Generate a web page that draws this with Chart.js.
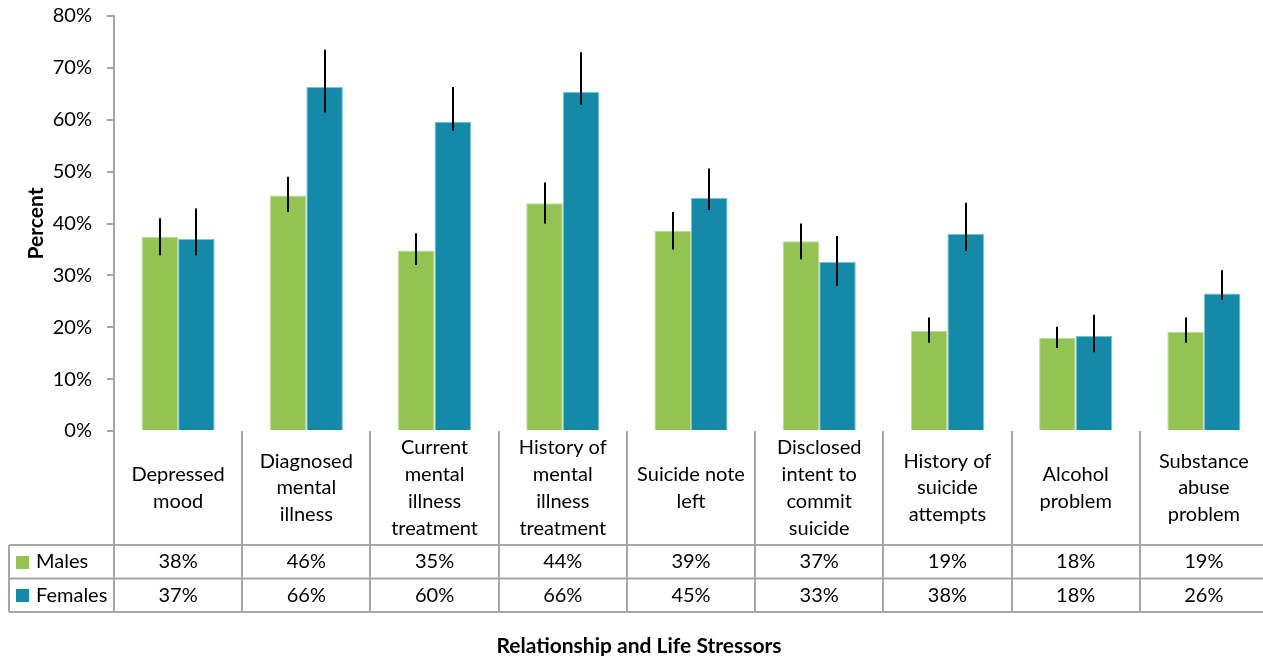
<!DOCTYPE html>
<html>
<head>
<meta charset="utf-8">
<script src="https://cdn.jsdelivr.net/npm/chart.js@4/dist/chart.umd.min.js"></script>
<style>
  html, body { margin: 0; padding: 0; background: #fff; overflow: hidden; }
  #wrap { width: 1275px; height: 656px; }
</style>
</head>
<body>
<div id="wrap"><canvas id="stressChart" width="1270" height="656"></canvas></div>
<script>
const categories = [
  ["Depressed", "mood"],
  ["Diagnosed", "mental", "illness"],
  ["Current", "mental", "illness", "treatment"],
  ["History of", "mental", "illness", "treatment"],
  ["Suicide note", "left"],
  ["Disclosed", "intent to", "commit", "suicide"],
  ["History of", "suicide", "attempts"],
  ["Alcohol", "problem"],
  ["Substance", "abuse", "problem"]
];
const males = [37.4, 45.4, 34.8, 43.9, 38.6, 36.6, 19.3, 18.0, 19.1];
const malesLow = [33.9, 42.2, 32.0, 40.0, 35.0, 33.1, 17.0, 16.0, 17.0];
const malesHigh = [41.0, 49.0, 38.1, 47.9, 42.2, 40.0, 21.9, 20.1, 21.9];
const females = [37.0, 66.3, 59.6, 65.4, 44.9, 32.6, 38.0, 18.3, 26.5];
const femalesLow = [33.9, 61.4, 57.9, 62.9, 42.6, 28.0, 34.7, 15.2, 25.3];
const femalesHigh = [42.9, 73.5, 66.3, 73.0, 50.6, 37.6, 44.0, 22.4, 31.0];
const malesTable = ["38%", "46%", "35%", "44%", "39%", "37%", "19%", "18%", "19%"];
const femalesTable = ["37%", "66%", "60%", "66%", "45%", "33%", "38%", "18%", "26%"];
const yTicks = [0, 10, 20, 30, 40, 50, 60, 70, 80];

const GREEN = "#92C353";
const TEAL = "#148AA8";
const LINE = "#a6a6a6";
const FONT = "Lato, 'Open Sans', sans-serif";

// error bars on top of each bar
const errorBars = {
  id: "errorBars",
  afterDatasetsDraw(chart) {
    const { ctx, scales: { y } } = chart;
    const ranges = [[malesLow, malesHigh], [femalesLow, femalesHigh]];
    ctx.save();
    ctx.strokeStyle = "#000";
    ctx.lineWidth = 2;
    ranges.forEach(([lo, hi], di) => {
      chart.getDatasetMeta(di).data.forEach((bar, i) => {
        const x = Math.round(bar.x);
        ctx.beginPath();
        ctx.moveTo(x, y.getPixelForValue(hi[i]));
        ctx.lineTo(x, y.getPixelForValue(lo[i]));
        ctx.stroke();
      });
    });
    ctx.restore();
  }
};

// data table under the plot
const dataTable = {
  id: "dataTable",
  afterDraw(chart) {
    const { ctx, chartArea: area, scales: { x } } = chart;
    const n = categories.length;
    const step = (area.right - area.left) / n;
    const top = area.bottom;
    const row1 = top + 114;
    const row2 = row1 + 33.5;
    const row3 = row2 + 33.5;
    const legendLeft = 9;
    ctx.save();
    ctx.strokeStyle = LINE;
    ctx.lineWidth = 2;
    ctx.beginPath();
    [row1, row2, row3].forEach((yy) => { ctx.moveTo(legendLeft, yy); ctx.lineTo(area.right + 10, yy); });
    for (let i = 0; i <= n; i++) {
      const xx = Math.round(area.left + step * i);
      ctx.moveTo(xx, top);
      ctx.lineTo(xx, row3);
    }
    ctx.moveTo(legendLeft, row1);
    ctx.lineTo(legendLeft, row3);
    ctx.stroke();

    ctx.fillStyle = "#000";
    ctx.textAlign = "center";
    ctx.textBaseline = "middle";
    ctx.font = `20px ${FONT}`;
    const lh = 26.8;
    categories.forEach((lines, i) => {
      const cx = x.getPixelForValue(i);
      const midY = (top + row1) / 2;
      lines.forEach((t, k) => ctx.fillText(t, cx, midY + (k - (lines.length - 1) / 2) * lh));
      ctx.fillText(malesTable[i], cx, (row1 + row2) / 2);
      ctx.fillText(femalesTable[i], cx, (row2 + row3) / 2);
    });

    ctx.textAlign = "left";
    [["Males", GREEN, (row1 + row2) / 2], ["Females", TEAL, (row2 + row3) / 2]].forEach(([name, color, yy]) => {
      ctx.fillStyle = color;
      ctx.fillRect(16, Math.round(yy) - 6, 13, 13);
      ctx.fillStyle = "#000";
      ctx.fillText(name, 36, yy);
    });

    ctx.font = `bold 21px ${FONT}`;
    ctx.textAlign = "center";
    ctx.fillText("Relationship and Life Stressors", 639, 646);
    ctx.restore();
  }
};

new Chart(document.getElementById("stressChart"), {
  type: "bar",
  data: {
    labels: categories.map((c) => c.join(" ")),
    datasets: [
      { label: "Males", data: males, backgroundColor: GREEN, borderColor: "#b9dc8f", borderWidth: 1 },
      { label: "Females", data: females, backgroundColor: TEAL, borderColor: "#7cc0d2", borderWidth: 1 }
    ]
  },
  options: {
    responsive: false,
    animation: false,
    layout: { padding: { left: 0, right: 2, top: 16, bottom: 225 } },
    datasets: { bar: { categoryPercentage: 0.57, barPercentage: 1.0 } },
    plugins: { legend: { display: false }, tooltip: { enabled: false } },
    scales: {
      x: { display: false },
      y: {
        min: 0,
        max: 80,
        afterBuildTicks: (scale) => { scale.ticks = yTicks.map((v) => ({ value: v })); },
        afterFit: (scale) => { scale.width = 114; scale.paddingTop = 0; scale.paddingBottom = 0; },
        border: { color: LINE, width: 2 },
        grid: { drawOnChartArea: false, drawTicks: true, tickLength: 7, color: LINE, lineWidth: 2 },
        ticks: { padding: 15, color: "#000", font: { family: FONT, size: 20 }, callback: (v) => v + "%" },
        title: { display: true, text: "Percent", color: "#000", font: { family: FONT, size: 21, weight: "bold" }, padding: { top: 24, bottom: 0 } }
      }
    }
  },
  plugins: [errorBars, dataTable]
});
</script>
</body>
</html>
